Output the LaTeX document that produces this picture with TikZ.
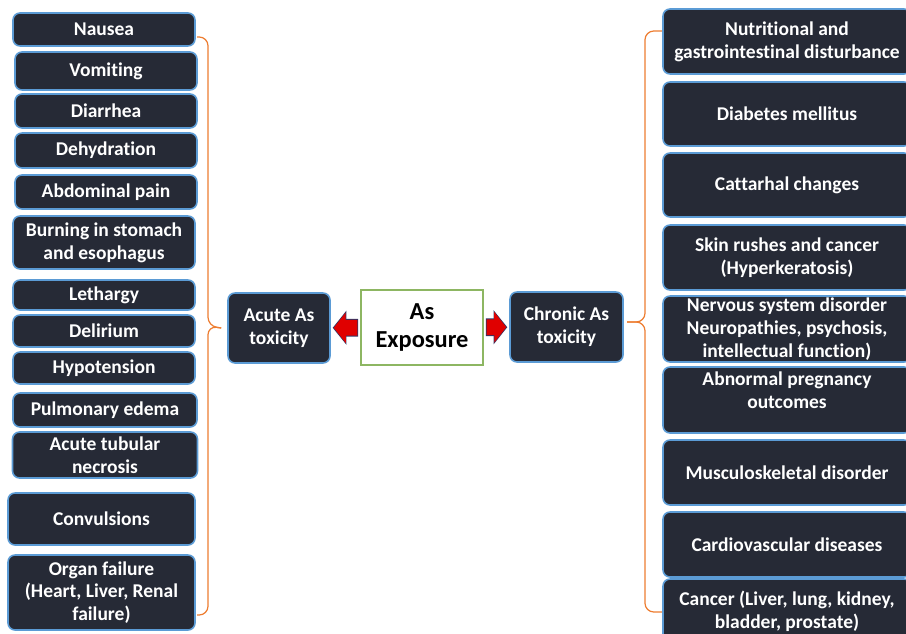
\documentclass[tikz,border=0pt]{standalone}
\usepackage{fontspec}
\setmainfont{Carlito}[Ligatures={NoCommon}]
\usetikzlibrary{arrows.meta}
\pgfdeclarelayer{edgelayer}
\pgfdeclarelayer{nodelayer}
\pgfsetlayers{edgelayer,nodelayer,main}
\definecolor{boxfill}{HTML}{262A36}
\definecolor{boxedge}{HTML}{5B9BD5}
\definecolor{srcedge}{HTML}{8DB662}
\definecolor{braceorange}{HTML}{ED7D31}
\definecolor{pushred}{HTML}{E00000}
\definecolor{pushrim}{HTML}{2F3565}
\tikzstyle{effect}=[rectangle,rounded corners=4pt,fill=boxfill,draw=boxedge,line width=0.9pt,text=white,align=center,inner sep=1pt,font=\bfseries\fontsize{11.1}{13}\selectfont]
\tikzstyle{source}=[rectangle,fill=white,draw=srcedge,line width=0.8pt,align=center,font=\bfseries\fontsize{13.9}{15.5}\selectfont]
\tikzstyle{push}=[draw=pushred,line width=9pt,shorten <=1.7pt,shorten >=1.7pt,-{Triangle[length=6.8pt,width=17pt]}]
\tikzstyle{pushrim}=[draw=pushrim,line width=10.2pt,shorten <=1.2pt,shorten >=1.1pt,-{Triangle[length=7.8pt,width=19pt]}]
\tikzstyle{brace}=[draw=braceorange,line width=0.7pt,rounded corners=5pt]
\begin{document}
\begin{tikzpicture}
	\clip (0,0) rectangle (18.12,12.66);
	\begin{pgfonlayer}{nodelayer}
		% acute effects
		\node [style=effect,minimum width=3.64cm,minimum height=0.66cm] (0) at (2.08,12.07) {Nausea};
		\node [style=effect,minimum width=3.64cm,minimum height=0.76cm] (1) at (2.12,11.24) {Vomiting};
		\node [style=effect,minimum width=3.64cm,minimum height=0.68cm] (2) at (2.12,10.44) {Diarrhea};
		\node [style=effect,minimum width=3.64cm,minimum height=0.70cm] (3) at (2.12,9.65) {Dehydration};
		\node [style=effect,minimum width=3.64cm,minimum height=0.68cm] (4) at (2.12,8.82) {Abdominal pain};
		\node [style=effect,minimum width=3.64cm,minimum height=1.06cm] (5) at (2.08,7.81) {Burning in stomach\\and esophagus};
		\node [style=effect,minimum width=3.64cm,minimum height=0.60cm] (6) at (2.08,6.76) {Lethargy};
		\node [style=effect,minimum width=3.64cm,minimum height=0.64cm] (7) at (2.08,6.04) {Delirium};
		\node [style=effect,minimum width=3.64cm,minimum height=0.64cm] (8) at (2.08,5.30) {Hypotension};
		\node [style=effect,minimum width=3.68cm,minimum height=0.68cm] (9) at (2.10,4.46) {Pulmonary edema};
		\node [style=effect,minimum width=3.70cm,minimum height=0.92cm] (10) at (2.10,3.56) {Acute tubular\\necrosis};
		\node [style=effect,minimum width=3.74cm,minimum height=1.04cm] (11) at (2.03,2.28) {Convulsions};
		\node [style=effect,minimum width=3.74cm,minimum height=1.50cm] (12) at (2.03,0.81) {Organ failure\\(Heart, Liver, Renal\\failure)};
		% chronic effects
		\node [style=effect,minimum width=4.96cm,minimum height=1.30cm] (13) at (15.74,11.83) {Nutritional and\\gastrointestinal disturbance};
		\node [style=effect,minimum width=4.96cm,minimum height=1.28cm] (14) at (15.74,10.38) {Diabetes mellitus};
		\node [style=effect,minimum width=4.96cm,minimum height=1.28cm] (15) at (15.74,8.96) {Cattarhal changes};
		\node [style=effect,minimum width=4.96cm,minimum height=1.30cm] (16) at (15.74,7.51) {Skin rushes and cancer\\(Hyperkeratosis)};
		\node [style=effect,minimum width=4.96cm,minimum height=1.32cm] (17) at (15.74,6.08) {Nervous system disorder\\Neuropathies, psychosis,\\intellectual function)};
		\node [style=effect,minimum width=4.96cm,minimum height=1.32cm,text depth=0.40cm] (18) at (15.74,4.66) {Abnormal pregnancy\\outcomes};
		\node [style=effect,minimum width=4.96cm,minimum height=1.30cm] (19) at (15.74,3.21) {Musculoskeletal disorder};
		\node [style=effect,minimum width=4.96cm,minimum height=1.30cm] (20) at (15.74,1.77) {Cardiovascular diseases};
		\node [style=effect,minimum width=4.96cm,minimum height=1.30cm] (21) at (15.74,0.43) {Cancer (Liver, lung, kidney,\\bladder, prostate)};
		% centre
		\node [style=effect,minimum width=2.04cm,minimum height=1.40cm] (22) at (5.58,6.10) {Acute As\\toxicity};
		\node [style=source,minimum width=2.44cm,minimum height=1.50cm] (23) at (8.44,6.11) {As\\Exposure};
		\node [style=effect,minimum width=2.26cm,minimum height=1.40cm] (24) at (11.33,6.12) {Chronic As\\toxicity};
		\coordinate (25) at (3.94,11.92);
		\coordinate (26) at (3.94,0.36);
		\coordinate (27) at (13.24,12.04);
		\coordinate (28) at (13.24,0.42);
	\end{pgfonlayer}
	\begin{pgfonlayer}{edgelayer}
		\draw [style=pushrim] (23) to (22);
		\draw [style=push] (23) to (22);
		\draw [style=pushrim] (23) to (24);
		\draw [style=push] (23) to (24);
		\draw [style=brace] (25) -| (4.16,6.14) -- ([xshift=-0.12cm]22.west);
		\draw [style=brace] (26) -| (4.16,6.14) -- ([xshift=-0.12cm]22.west);
		\draw [style=brace] (27) -| (12.90,6.22) -- (12.54,6.22);
		\draw [style=brace] (28) -| (12.90,6.22) -- (12.54,6.22);
	\end{pgfonlayer}
\end{tikzpicture}
\end{document}
